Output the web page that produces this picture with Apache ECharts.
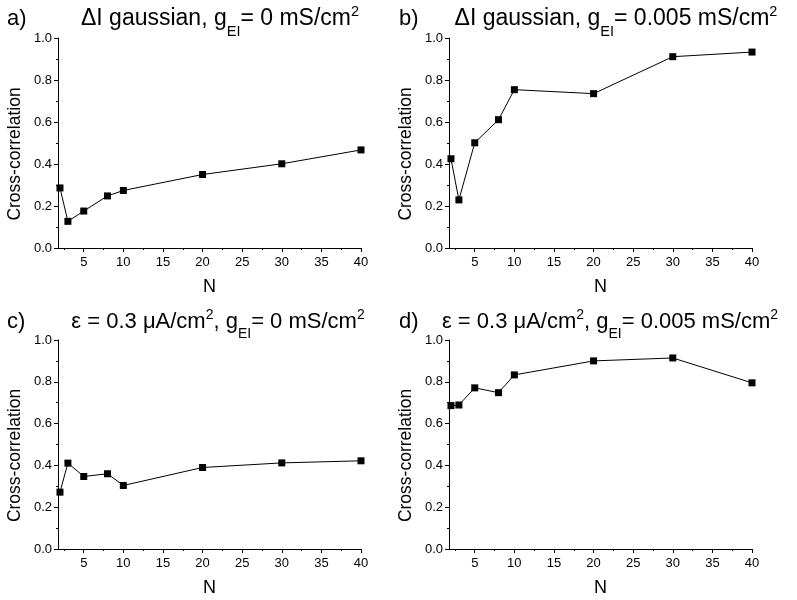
<!DOCTYPE html>
<html>
<head>
<meta charset="utf-8">
<script src="https://cdn.jsdelivr.net/npm/echarts@6/dist/echarts.min.js"></script>
<style>
  html, body { margin: 0; padding: 0; background: #fff; }
  #chart { width: 797px; height: 600px; }
</style>
</head>
<body>
<div id="chart"></div>
<script>
// N values on the x axis
const nValues = [2, 3, 5, 8, 10, 20, 30, 40];
// cross-correlation, one array per panel
const ccA = [0.286, 0.127, 0.176, 0.248, 0.274, 0.350, 0.401, 0.467];
const ccB = [0.425, 0.229, 0.501, 0.611, 0.754, 0.735, 0.911, 0.933];
const ccC = [0.272, 0.411, 0.347, 0.360, 0.304, 0.390, 0.412, 0.422];
const ccD = [0.686, 0.689, 0.771, 0.748, 0.833, 0.900, 0.914, 0.795];
const xMajor = [5, 10, 15, 20, 25, 30, 35, 40];
const xMinor = [2.5, 7.5, 12.5, 17.5, 22.5, 27.5, 32.5, 37.5];
const panelLetters = ['a)', 'b)', 'c)', 'd)'];

const FONT = 'Liberation Sans, Arial, sans-serif';
const chart = echarts.init(document.getElementById('chart'));

const grids = [
    { left: 58, top: 38, width: 303, height: 210 },
    { left: 449, top: 38, width: 303, height: 210 },
    { left: 58, top: 340, width: 303, height: 209 },
    { left: 449, top: 340, width: 303, height: 209 }
];
const allData = [ccA, ccB, ccC, ccD];

const xAxes = [];
const yAxes = [];
const series = [];

grids.forEach((g, i) => {
    xAxes.push({
        type: 'value', gridIndex: i, position: 'bottom',
        min: 1.75, max: 40,
        name: 'N', nameLocation: 'middle', nameGap: 30,
        nameTextStyle: { fontSize: 18, color: '#000', fontFamily: FONT },
        axisLine: { lineStyle: { color: '#000', width: 1 } },
        axisTick: { show: true, length: 4, customValues: xMajor, lineStyle: { color: '#000' } },
        axisLabel: { customValues: xMajor, fontSize: 13, color: '#000', fontFamily: FONT, margin: 8 },
        splitLine: { show: false }
    });
    // second axis just for the minor ticks
    xAxes.push({
        type: 'value', gridIndex: i, position: 'bottom',
        min: 1.75, max: 40,
        axisLine: { show: false },
        axisTick: { show: true, length: 2, customValues: xMinor, lineStyle: { color: '#000' } },
        axisLabel: { show: false },
        splitLine: { show: false }
    });
    yAxes.push({
        type: 'value', gridIndex: i,
        min: 0, max: 1, interval: 0.2,
        axisLine: { show: true, lineStyle: { color: '#000', width: 1 } },
        axisTick: { show: true, length: 4, lineStyle: { color: '#000' } },
        minorTick: { show: true, splitNumber: 2, length: 2, lineStyle: { color: '#000' } },
        axisLabel: { fontSize: 13, color: '#000', fontFamily: FONT, margin: 6,
            formatter: v => v.toFixed(1) },
        splitLine: { show: false }
    });
    series.push({
        type: 'line',
        xAxisIndex: i * 2, yAxisIndex: i,
        data: nValues.map((n, k) => [n, allData[i][k]]),
        symbol: 'rect', symbolSize: 7,
        lineStyle: { color: '#000', width: 1 },
        itemStyle: { color: '#000' },
        animation: false
    });
});

function richFor(size) {
    const small = Math.round(size * 0.63 * 2) / 2;
    return {
        m: { fontSize: size, fontFamily: FONT, fill: '#000' },
        sub: { fontSize: small, fontFamily: FONT, fill: '#000', padding: [25, 0, 0, 0] },
        sup: { fontSize: small, fontFamily: FONT, fill: '#000', padding: [0, 0, 14, 0] }
    };
}

const titles = [
    { x: 220, y: 19, size: 23, text: '{m|\u0394I gaussian, g}{sub|EI}{m|= 0 mS/cm}{sup|2}' },
    { x: 616, y: 19, size: 23, text: '{m|\u0394I gaussian, g}{sub|EI}{m|= 0.005 mS/cm}{sup|2}' },
    { x: 218, y: 322, size: 22, text: '{m|\u03b5 = 0.3 \u03bcA/cm}{sup|2}{m|, g}{sub|EI}{m|= 0 mS/cm}{sup|2}' },
    { x: 610, y: 322, size: 22, text: '{m|\u03b5 = 0.3 \u03bcA/cm}{sup|2}{m|, g}{sub|EI}{m|= 0.005 mS/cm}{sup|2}' }
];
const letterPos = [[7, 19], [399, 19], [7, 322], [399, 322]];

const graphics = [];
titles.forEach((t, i) => {
    graphics.push({
        type: 'text', x: t.x, y: t.y,
        style: { text: t.text, align: 'center', verticalAlign: 'middle', rich: richFor(t.size),
            fontSize: t.size, fontFamily: FONT, fill: '#000' }
    });
    graphics.push({
        type: 'text', x: letterPos[i][0], y: letterPos[i][1],
        style: { text: panelLetters[i], align: 'left', verticalAlign: 'middle',
            fontSize: 22, fontFamily: FONT, fill: '#000' }
    });
    const g = grids[i];
    graphics.push({
        type: 'text', x: g.left - 43, y: g.top + g.height / 2 + 11, rotation: Math.PI / 2,
        style: { text: 'Cross-correlation', align: 'center', verticalAlign: 'middle',
            fontSize: 17.5, fontFamily: FONT, fill: '#000' }
    });
});

chart.setOption({
    animation: false,
    backgroundColor: '#fff',
    grid: grids,
    xAxis: xAxes,
    yAxis: yAxes,
    series: series,
    graphic: graphics
});
</script>
</body>
</html>
